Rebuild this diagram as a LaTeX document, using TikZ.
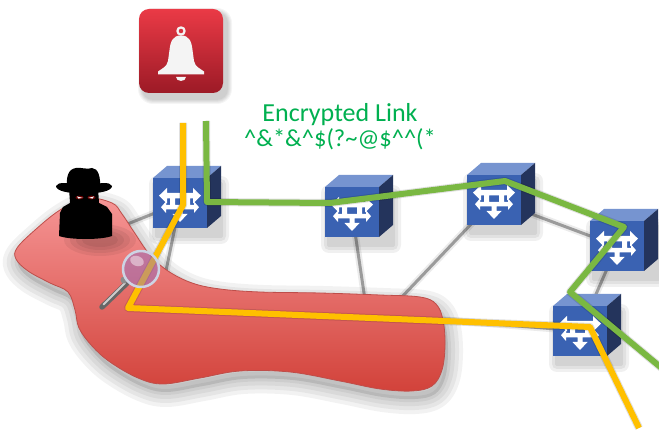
\documentclass[tikz,border=0pt]{standalone}
\usepackage{fontspec}
\setmainfont{Carlito}

\definecolor{bellred}{RGB}{234,58,70}
\definecolor{belldark}{RGB}{156,26,38}
\definecolor{bellwhite}{RGB}{244,244,244}
\definecolor{linkgreen}{RGB}{0,176,80}
\definecolor{tunnelgreen}{RGB}{122,184,66}
\definecolor{tapyellow}{RGB}{255,192,0}
\definecolor{blobtop}{RGB}{246,150,150}
\definecolor{blobbot}{RGB}{210,66,58}
\definecolor{blobedge}{RGB}{190,78,74}
\definecolor{swfront}{RGB}{58,98,178}
\definecolor{swtop}{RGB}{118,148,208}
\definecolor{swside}{RGB}{36,52,92}
\definecolor{wirecol}{RGB}{155,155,155}
\definecolor{lensglass}{RGB}{140,110,200}
\definecolor{lensrim}{RGB}{205,212,228}

% outline of the tapped segment
\def\blobpath{plot[smooth cycle, tension=0.6] coordinates {(60,210) (86,198) (112,203) (122,214) (134,232) (150,255) (168,271) (192,283) (220,289) (260,292) (320,293) (380,295) (420,297) (436,304) (443,320) (445,345) (442,370) (432,386) (412,391) (380,389) (340,381) (290,372) (240,371) (200,378) (163,384) (138,378) (110,362) (92,346) (79,328) (75,310) (68,292) (50,283) (28,271) (16,259) (17,248) (35,230)}}

\tikzset{
  switchbox/.pic={
    % soft drop shadow
    \foreach \s in {2,5,8}
      \fill[black, opacity=0.06, rounded corners=\s] (-23-\s,-19-\s) rectangle (41+\s,33+\s);
    \fill[swfront] (-27,-25) rectangle (27,25);
    \fill[swtop] (-27,-25) -- ++(14,-12) -- ++(54,0) -- (27,-25) -- cycle;
    \fill[swside] (27,-25) -- ++(14,-12) -- ++(0,50) -- (27,25) -- cycle;
    % switch symbol
    \fill[white] (-13,-10) rectangle (13,-4.5)
      (-13,-15) -- (-21,-7.3) -- (-13,0.5) -- cycle
      (13,-15) -- (21,-7.3) -- (13,0.5) -- cycle
      (-10,-4.5) rectangle (-5,4) (5,-4.5) rectangle (10,4)
      (-14,2) rectangle (14,6.5)
      (-14,-1.5) -- (-19,4.2) -- (-14,10) -- cycle
      (14,-1.5) -- (19,4.2) -- (14,10) -- cycle
      (-2.5,6) rectangle (2.5,11)
      (-7.5,11) -- (7.5,11) -- (0,19) -- cycle;
  }
}

\begin{document}
\begin{tikzpicture}[x=1pt, y=-1pt, line join=round,
    wire/.style={wirecol, line width=3},
    wireshadow/.style={black, opacity=0.08, line width=7, shift={(2,5)}},
    route/.style={line width=6},
    routeshadow/.style={black, opacity=0.12, line width=8, shift={(2,5)}},
    caption/.style={text=linkgreen, anchor=base, inner sep=0pt}]
  \useasboundingbox (0,0) rectangle (659,435);
  \fill[white] (0,0) rectangle (659,435);

  % alarm icon
  \foreach \s in {1,...,5}
    \fill[black, opacity=0.04, rounded corners=10+\s] (143-\s,13-\s) rectangle (227+\s,99+\s);
  \shade[top color=bellred, bottom color=belldark, rounded corners=10] (139,9) rectangle (223,93);
  \draw[bellwhite, line width=2.2] (181,31) circle (3.6);
  \fill[bellwhite] (181,35.5) .. controls (173,35.5) and (170.5,41) .. (169.5,50) -- (168,61)
    .. controls (167,67) and (161,69) .. (158,71.5) -- (158,74.5) -- (204,74.5) -- (204,71.5)
    .. controls (201,69) and (195,67) .. (194,61) -- (192.5,50)
    .. controls (191.5,41) and (189,35.5) .. (181,35.5) -- cycle;
  \fill[bellwhite] (186,77) arc[start angle=0, end angle=180, x radius=5, y radius=4] -- cycle;

  % caption
  \node[caption, font=\fontsize{26}{30}\selectfont] (tag) at (340,122) {Encrypted Link};
  \node[caption, font=\fontsize{24.5}{28}\selectfont] (cipher) at (340,147)
    {\textasciicircum\&*\&\textasciicircum\$(?\textasciitilde @\$\textasciicircum\textasciicircum(*};

  % switches
  \coordinate (sw1) at (180,203);
  \coordinate (sw2) at (352,212);
  \coordinate (sw3) at (494,200);
  \coordinate (sw4) at (617,246);
  \coordinate (sw5) at (580,331);
  % far ends of the links, hidden under the tap
  \coordinate (h1) at (100,235);
  \coordinate (h2) at (160,300);
  \coordinate (h3) at (368,320);
  \coordinate (h4) at (380,320);
  \coordinate (h5) at (420,318);

  % links
  \foreach \a/\b in {sw1/h1, sw1/h2, sw2/h3, sw3/h4, sw5/h5, sw3/sw4, sw4/sw5}
    \draw[wireshadow] (\a) -- (\b);
  \foreach \a/\b in {sw1/h1, sw1/h2, sw2/h3, sw3/h4, sw5/h5, sw3/sw4, sw4/sw5}
    \draw[wire] (\a) -- (\b);

  % tapped segment
  \foreach \w in {30,22,14,6}
    \draw[black, opacity=0.05, line width=\w, shift={(3,8)}] \blobpath;
  \fill[black, opacity=0.1, shift={(3,8)}] \blobpath;
  \shadedraw[top color=blobtop, bottom color=blobbot, draw=blobedge, line width=0.8] \blobpath;

  \foreach \i in {1,...,4}
    \fill[black, opacity=0.06] (100,240) ellipse ({12+6*\i} and {4+3*\i});

  \foreach \i in {1,...,5}
    \pic at (sw\i) {switchbox};

  % eavesdropper
  \fill[black] (69,188) -- (70,203) -- (63,207) -- (60,213) -- (59,236)
    .. controls (70,240) and (101,240) .. (112,236) -- (112,214) -- (107,207) -- (99,203) -- (98,188) -- cycle;
  \fill[black] (67,189) .. controls (66,177) and (68,169) .. (76,168) .. controls (80,167) and (88,170) .. (92,168)
    .. controls (98,168) and (101,177) .. (100,189) -- cycle;
  \fill[black] (56,186) .. controls (58,181) and (68,184) .. (84,184) .. controls (100,184) and (110,181) .. (112,186)
    .. controls (112,191) and (100,193.5) .. (84,193.5) .. controls (68,193.5) and (56,191) .. (56,186) -- cycle;
  \foreach \ex/\d in {77/1, 94/-1} {
    \fill[red!75!black, opacity=0.55] (\ex+2.5*\d,197.5) ellipse (4 and 1.8);
    \fill[white] (\ex,196.5) -- (\ex+5.5*\d,197.8) -- (\ex+1.5*\d,198.6) -- cycle;
  }

  % routes
  \coordinate (y0) at (183,123);
  \coordinate (y1) at (183,205);
  \coordinate (y2) at (128,308);
  \coordinate (y3) at (590,327);
  \coordinate (y4) at (639,428);
  \coordinate (g0) at (206,121);
  \coordinate (g1) at (207,202);
  \coordinate (g2) at (330,203);
  \coordinate (g3) at (505,181);
  \coordinate (g4) at (624,227);
  \coordinate (g5) at (570,292);
  \coordinate (g6) at (664,370);
  \draw[routeshadow] (y0) -- (y1) -- (y2) -- (y3) -- (y4);
  \draw[routeshadow] (g0) -- (g1) -- (g2) -- (g3) -- (g4) -- (g5) -- (g6);
  \draw[route, tapyellow] (y0) -- (y1) -- (y2) -- (y3) -- (y4);
  \draw[route, tunnelgreen] (g0) -- (g1) -- (g2) -- (g3) -- (g4) -- (g5) -- (g6);

  % magnifier
  \coordinate (lens) at (141,269);
  \coordinate (grip) at (102,307);
  \draw[line width=5.5, black!60, line cap=round] (grip) -- (127,283);
  \draw[line width=2, black!20, line cap=round] (103.5,304.5) -- (125,283);
  \fill[black!45] (124,280) circle (3.5);
  \fill[lensglass, opacity=0.45] (lens) circle (18);
  \fill[white, opacity=0.45, rotate around={-20:(137,261)}] (137,261) ellipse (7 and 5);
  \draw[lensrim, line width=2.5] (lens) circle (18);
\end{tikzpicture}
\end{document}
